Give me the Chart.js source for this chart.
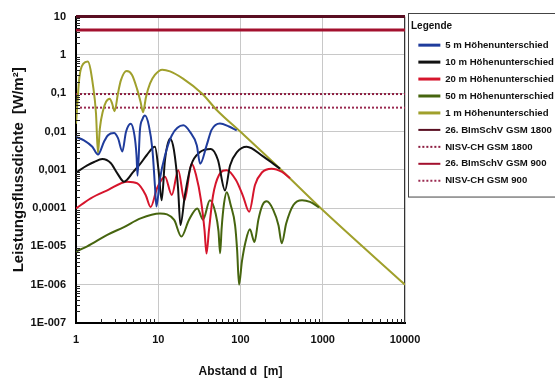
<!DOCTYPE html>
<html>
<head>
<meta charset="utf-8">
<script src="https://cdn.jsdelivr.net/npm/chart.js@4.4.0/dist/chart.umd.min.js"></script>
<style>
  html, body { margin: 0; padding: 0; background: #fff; }
</style>
</head>
<body>
<canvas id="fieldChart" width="555" height="383"></canvas>
<script>
// values (distance in m, power density in W/m²)
const dist5m = [1, 1.25, 1.58, 1.85, 2.19, 2.45, 2.9, 3.24, 3.66, 4.05, 4.63, 5.14, 5.44, 5.6, 5.99, 6.43, 6.9, 7.7, 8.5, 9.1, 9.5, 10.5, 12.1, 14.6, 20.2, 24.3, 29.4, 32.3, 38.8, 44.5, 56.3, 72.5, 90];
const val5m = [0.0072, 0.0059, 0.004, 0.0025, 0.0054, 0.008, 0.0091, 0.0067, 0.003, 0.0097, 0.016, 0.0079, 0.0024, 0.0007, 0.011, 0.021, 0.026, 0.014, 0.0033, 0.0004, 0.00011, 0.00059, 0.0024, 0.0079, 0.0145, 0.0098, 0.0044, 0.00144, 0.0044, 0.011, 0.0162, 0.0135, 0.0107];

const dist10m = [1, 1.37, 1.66, 2.09, 2.64, 3.18, 3.83, 5.0, 6.0, 7.23, 9.12, 10.07, 11, 12.07, 13.9, 15.5, 17.4, 18.6, 21.1, 25, 32.2, 43.6, 53.2, 64.8, 74.6, 90.6, 119, 190, 302];
const val10m = [0.00085, 0.0013, 0.0016, 0.0019, 0.0015, 0.00081, 0.00049, 0.0009, 0.0014, 0.0024, 0.004, 0.001, 0.00016, 0.0018, 0.0065, 0.0033, 0.00034, 0.000036, 0.00022, 0.0013, 0.0029, 0.0035, 0.0018, 0.00029, 0.0013, 0.0029, 0.004, 0.0022, 0.00107];

const dist20m = [1, 1.51, 2.4, 4.21, 5.57, 7.03, 8.09, 9.66, 12.07, 14.6, 17.5, 20.8, 25.5, 28.8, 33.1, 36.5, 38.6, 41.4, 46.3, 54.8, 68, 88, 107, 127.5, 150, 182, 239, 320, 400];
const val20m = [9.8e-5, 1.8e-4, 2.9e-4, 4.9e-4, 4.4e-4, 2.2e-4, 1.07e-4, 3.3e-4, 6.6e-4, 2.2e-4, 9.8e-4, 1.6e-4, 1.44e-3, 7.3e-4, 1.6e-4, 2.7e-5, 6.5e-6, 2.7e-5, 2.1e-4, 7.3e-4, 9.8e-4, 5.4e-4, 2.1e-4, 8e-5, 4e-4, 8.5e-4, 1.07e-3, 8.8e-4, 6e-4];

const dist50m = [1, 1.37, 2.4, 3.83, 6.1, 10.5, 15.6, 19.1, 23.6, 29.9, 35, 42.5, 50, 54, 56.5, 59, 63, 68, 76, 86, 91, 96, 104, 116, 130, 148, 165, 185, 208, 250, 290, 317, 360, 440, 560, 700, 900];
const val50m = [7.4e-6, 1e-5, 2e-5, 3.2e-5, 5.4e-5, 7.2e-5, 4.9e-5, 1.8e-5, 4.9e-5, 9.8e-5, 5e-5, 1.6e-4, 7e-5, 2.5e-5, 6.6e-6, 3e-5, 1.3e-4, 2.6e-4, 1.2e-4, 3.5e-5, 8e-6, 1e-6, 4e-6, 1.4e-5, 2.8e-5, 1.3e-5, 5e-5, 1.2e-4, 1.5e-4, 9e-5, 3.5e-5, 1.2e-5, 4e-5, 1.2e-4, 1.6e-4, 1.45e-4, 1.05e-4];

const dist1m = [1, 1.1, 1.23, 1.39, 1.62, 1.75, 1.85, 1.95, 2.13, 2.32, 2.57, 2.74, 2.95, 3.24, 3.52, 4.13, 4.8, 5.52, 6.09, 6.53, 7.1, 7.95, 9.1, 11.2, 13.9, 20, 34, 51.7, 100, 302, 926, 10000];
const val1m = [0.016, 0.26, 0.59, 0.67, 0.145, 0.03, 0.0027, 0.012, 0.035, 0.06, 0.072, 0.055, 0.034, 0.1, 0.22, 0.38, 0.3, 0.13, 0.06, 0.032, 0.08, 0.18, 0.3, 0.41, 0.37, 0.24, 0.098, 0.036, 0.0098, 0.00107, 1.04e-4, 1e-6];

// limit values
const limitDist = [1, 10000];
const bimschGsm1800 = [10, 10];
const nisvGsm1800 = [0.095, 0.095];
const bimschGsm900 = [4.5, 4.5];
const nisvGsm900 = [0.042, 0.042];

const xTicks = [1, 10, 100, 1000, 10000];
const yTicks = [1e-7, 1e-6, 1e-5, 1e-4, 1e-3, 1e-2, 1e-1, 1, 10];
const yTickLabels = ["1E-007", "1E-006", "1E-005", "0,0001", "0,001", "0,01", "0,1", "1", "10"];

const toPoints = (xs, ys) => xs.map((x, i) => ({ x: x, y: ys[i] }));

function curve(label, xs, ys, color) {
  return {
    label: label,
    data: toPoints(xs, ys),
    borderColor: color,
    backgroundColor: color,
    borderWidth: 2,
    pointRadius: 0,
    cubicInterpolationMode: "monotone",
    fill: false
  };
}

function limit(label, ys, color, dash, width) {
  return {
    label: label,
    data: toPoints(limitDist, ys),
    borderColor: color,
    backgroundColor: color,
    borderWidth: width,
    borderDash: dash,
    pointRadius: 0,
    clip: 4,
    fill: false
  };
}

Chart.defaults.font.family = "'Liberation Sans', Arial, sans-serif";
Chart.defaults.font.weight = "bold";
Chart.defaults.color = "#111";

// frame, minor ticks and legend box
const frame = {
  id: "frame",
  afterLayout(chart) {
    // legend sits a little right of the plot, as in the scan
    chart.legend.left += 6;
    chart.legend.right += 6;
  },
  beforeDatasetsDraw(chart) {
    const { ctx, chartArea: a } = chart;
    ctx.save();
    ctx.strokeStyle = "#333";
    ctx.lineWidth = 1;
    ctx.beginPath();
    ctx.moveTo(a.left, a.top + 0.5);
    ctx.lineTo(a.right - 0.5, a.top + 0.5);
    ctx.lineTo(a.right - 0.5, a.bottom);
    ctx.stroke();
    ctx.restore();
  },
  afterDraw(chart) {
    const { ctx, chartArea: a, scales: { x, y } } = chart;
    ctx.save();
    ctx.strokeStyle = "#222";
    ctx.lineWidth = 1;
    ctx.beginPath();
    for (let e = -7; e < 1; e++) {
      for (let k = 2; k < 10; k++) {
        const py = Math.round(y.getPixelForValue(k * Math.pow(10, e))) + 0.5;
        ctx.moveTo(a.left, py);
        ctx.lineTo(a.left + 4, py);
      }
    }
    for (let e = 0; e < 4; e++) {
      for (let k = 2; k < 10; k++) {
        const px = Math.round(x.getPixelForValue(k * Math.pow(10, e))) + 0.5;
        ctx.moveTo(px, a.bottom);
        ctx.lineTo(px, a.bottom - 4);
      }
    }
    ctx.stroke();

    const lg = chart.legend;
    const boxes = lg.legendHitBoxes;
    const last = boxes[boxes.length - 1];
    ctx.strokeStyle = "#444";
    ctx.strokeRect(lg.left - 2.5, lg.top - 2.5, 200, last.top + last.height + 14 - lg.top);
    ctx.restore();
  }
};

new Chart(document.getElementById("fieldChart"), {
  type: "line",
  data: {
    datasets: [
      curve("5 m Höhenunterschied", dist5m, val5m, "#1f3c9c"),
      curve("10 m Höhenunterschied", dist10m, val10m, "#111111"),
      curve("20 m Höhenunterschied", dist20m, val20m, "#d6152c"),
      curve("50 m Höhenunterschied", dist50m, val50m, "#46650f"),
      curve("1 m Höhenunterschied", dist1m, val1m, "#a0a02c"),
      limit("26. BImSchV GSM 1800", bimschGsm1800, "#5a0f22", [], 3),
      limit("NISV-CH GSM 1800", nisvGsm1800, "#8c1d40", [2, 2], 2),
      limit("26. BImSchV GSM 900", bimschGsm900, "#a3102e", [], 3),
      limit("NISV-CH GSM 900", nisvGsm900, "#9a2a50", [2, 2], 2)
    ]
  },
  options: {
    responsive: false,
    animation: false,
    layout: { padding: { top: 16, right: 4, bottom: 0, left: 0 } },
    plugins: {
      tooltip: { enabled: false },
      legend: {
        position: "right",
        align: "start",
        maxWidth: 146,
        labels: {
          usePointStyle: true,
          pointStyle: "line",
          pointStyleWidth: 22,
          padding: 7.35,
          color: "#111",
          font: { size: 9.6, weight: "bold" },
          generateLabels: chart => Chart.defaults.plugins.legend.labels.generateLabels(chart).map(item => {
            const ds = chart.data.datasets[item.datasetIndex];
            item.lineDash = ds.borderDash || [];
            item.lineWidth = ds.borderDash ? 2 : 3;
            item.strokeStyle = ds.borderColor;
            return item;
          })
        },
        title: {
          display: true,
          text: "Legende",
          position: "start",
          color: "#111",
          font: { size: 10, weight: "bold" },
          padding: { top: 5, bottom: 0 }
        }
      }
    },
    scales: {
      x: {
        type: "logarithmic",
        min: 1,
        max: 10000,
        afterBuildTicks: s => { s.ticks = xTicks.map(v => ({ value: v })); },
        afterFit: s => { s.height = 60; },
        ticks: {
          autoSkip: false,
          maxRotation: 0,
          padding: 10,
          font: { size: 11, weight: "bold" },
          callback: v => String(v)
        },
        grid: { color: "#c8c8c8", drawTicks: false },
        border: { color: "#000", width: 2 },
        title: {
          display: true,
          text: "Abstand d  [m]",
          font: { size: 12, weight: "bold" },
          padding: { top: 0, bottom: 4 }
        }
      },
      y: {
        type: "logarithmic",
        min: 1e-7,
        max: 10,
        afterBuildTicks: s => { s.ticks = yTicks.map(v => ({ value: v })); },
        afterFit: s => { s.width = 76; },
        ticks: {
          autoSkip: false,
          padding: 10,
          font: { size: 11, weight: "bold" },
          callback: (v, i) => yTickLabels[i]
        },
        grid: { color: "#c8c8c8", drawTicks: false },
        border: { color: "#000", width: 2 },
        title: {
          display: true,
          text: "Leistungsflussdichte  [W/m²]",
          font: { size: 15, weight: "bold" },
          padding: { top: 10, bottom: 0 }
        }
      }
    }
  },
  plugins: [frame]
});
</script>
</body>
</html>
